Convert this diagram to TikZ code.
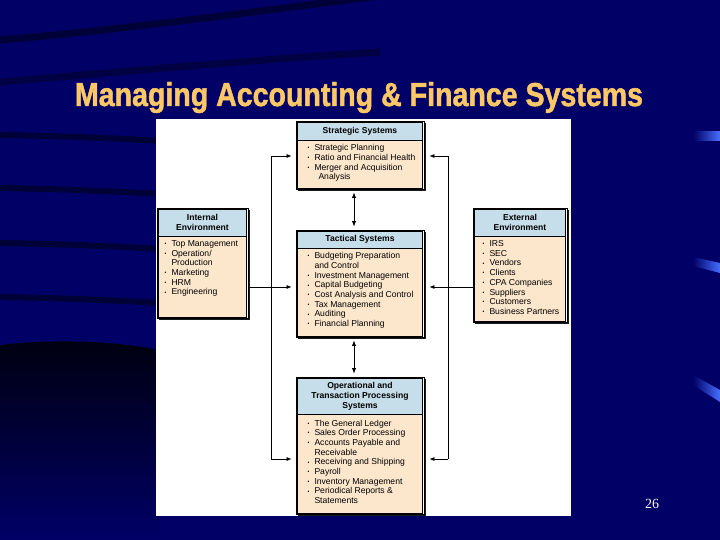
\documentclass[tikz,border=0pt]{standalone}
\usepackage{fontspec}
\setmainfont{Liberation Sans}
\newfontfamily\titlefont[FakeBold=1.5]{Liberation Sans Bold}
\newfontfamily\numfont{Liberation Serif}
\usetikzlibrary{positioning,shadows,arrows.meta}

\definecolor{slidebg}{RGB}{0,0,102}
\definecolor{titleyellow}{RGB}{255,200,102}
\definecolor{hdrblue}{RGB}{198,222,234}
\definecolor{bodypeach}{RGB}{253,231,204}
\definecolor{edgeblue}{RGB}{70,110,255}

% bullet, continuation indent and the list area of a block
\newcommand{\bul}{\makebox[7pt][l]{\raisebox{0.8pt}{\scalebox{0.6}{\textbullet}}}}
\newcommand{\sub}{\hspace*{7pt}}
\newcommand{\listbox}[5]{\parbox[c][#1pt][t]{#2pt}{\vspace*{#4pt}\raggedright\leftskip=#3pt\relax #5}}

\begin{document}
\begin{tikzpicture}[x=1pt,y=-1pt,font=\fontsize{8.6}{9.7}\selectfont]
\tikzset{
% Outer frame of a block with its shadow, then header and list parts
frame/.style={draw,line width=0.8,fill=white,inner sep=0,
  drop shadow={shadow xshift=2pt,shadow yshift=-2pt,fill=black,opacity=0.9}},
hdr/.style={draw,line width=0.5,fill=hdrblue,inner sep=0,align=center,
  font=\fontsize{8.6}{9.7}\selectfont\bfseries},
bdy/.style={draw,line width=0.5,fill=bodypeach,inner sep=0},
% Connectors
link/.style={line width=0.7},
arr/.style={line width=0.7,-{Latex[length=5pt,width=4pt]},shorten >=4pt},
twoway/.style={line width=0.9,{Latex[length=5.5pt,width=4.5pt]}-{Latex[length=5.5pt,width=4.5pt]},
  shorten >=3pt,shorten <=3pt}
}
\useasboundingbox (0,0) rectangle (720,540);
% Slide background
\fill[slidebg] (0,0) rectangle (720,540);
\draw[black,opacity=0.45,line width=7] (0,40) .. controls (120,30) and (250,12) .. (380,-4);
\draw[black,opacity=0.35,line width=7] (0,82) .. controls (120,72) and (250,60) .. (380,52);
\foreach \y in {135,188,243,297}
  \draw[black,opacity=0.45,line width=6] (0,\y) .. controls (60,\y+1) and (110,\y+3) .. (160,\y+6);
\shade[top color=black!85!slidebg,bottom color=slidebg] (0,345) .. controls (60,338) and (120,342) .. (160,350)
  -- (160,540) -- (0,540) -- cycle;
\shade[left color=slidebg,right color=edgeblue] (693,132) rectangle (720,141);
\shade[left color=slidebg,right color=edgeblue] (693,257) -- (720,263) -- (720,273) -- (693,266) -- cycle;
\shade[left color=slidebg,right color=edgeblue] (693,375) -- (720,390) -- (720,402) -- (693,385) -- cycle;
\fill[white] (156,119) rectangle (571,516);

% Title and page number
\node[anchor=base,inner sep=0,text=titleyellow] (title) at (359,106)
  {\resizebox{568pt}{24pt}{\titlefont Managing Accounting \& Finance Systems}};
\node[text=white,font=\numfont\fontsize{14}{16}\selectfont] (pgno) at (652,504) {26};

% Strategic Systems
\node[frame,minimum width=128,minimum height=68] (s) at (360,155) {};
\node[hdr,minimum width=125,minimum height=17.5,below=1.5pt of s.north] (sh) {Strategic Systems};
\node[bdy,below=0pt of sh] (sb) {\listbox{47.5}{125}{10}{4.2}{%
  \bul Strategic Planning\\
  \bul Ratio and Financial Health\\
  \bul Merger and Acquisition\\
  \sub\hspace*{4pt}Analysis}};

% Tactical Systems
\node[frame,minimum width=128,minimum height=107] (t) at (360,283.5) {};
\node[hdr,minimum width=125,minimum height=16.5,below=1.5pt of t.north] (th) {Tactical Systems};
\node[bdy,below=0pt of th] (tb) {\listbox{87.5}{125}{10}{4.2}{%
  \bul Budgeting Preparation\\
  \sub and Control\\
  \bul Investment Management\\
  \bul Capital Budgeting\\
  \bul Cost Analysis and Control\\
  \bul Tax Management\\
  \bul Auditing\\
  \bul Financial Planning}};

% Operational and Transaction Processing Systems
\node[frame,minimum width=128,minimum height=137] (o) at (360,445.5) {};
\node[hdr,minimum width=125,minimum height=35.5,below=1.5pt of o.north] (oh)
  {Operational and\\Transaction Processing\\Systems};
\node[bdy,below=0pt of oh] (ob) {\listbox{98.5}{125}{10}{5.5}{%
  \bul The General Ledger\\
  \bul Sales Order Processing\\
  \bul Accounts Payable and\\
  \sub Receivable\\
  \bul Receiving and Shipping\\
  \bul Payroll\\
  \bul Inventory Management\\
  \bul Periodical Reports \&\\
  \sub Statements}};

% Internal Environment
\node[frame,minimum width=91,minimum height=110] (ie) at (202.5,263) {};
\node[hdr,minimum width=88,minimum height=26.5,below=1.5pt of ie.north] (ih) {Internal\\Environment};
\node[bdy,below=0pt of ih] (ib) {\listbox{80.5}{88}{6}{4.2}{%
  \bul Top Management\\
  \bul Operation/\\
  \sub Production\\
  \bul Marketing\\
  \bul HRM\\
  \bul Engineering}};

% External Environment
\node[frame,minimum width=94,minimum height=114] (ee) at (520,265) {};
\node[hdr,minimum width=91,minimum height=26.5,below=1.5pt of ee.north] (eh) {External\\Environment};
\node[bdy,below=0pt of eh] (eb) {\listbox{84.5}{91}{8}{4.2}{%
  \bul IRS\\
  \bul SEC\\
  \bul Vendors\\
  \bul Clients\\
  \bul CPA Companies\\
  \bul Suppliers\\
  \bul Customers\\
  \bul Business Partners}};

% Connectors
\coordinate (ltop) at (271,156);
\coordinate (lmid) at (271,287);
\coordinate (lbot) at (271,459);
\coordinate (rtop) at (448,156);
\coordinate (rmid) at (448,287);
\coordinate (rbot) at (448,459);
\draw[link] (ltop) -- (lbot);
\draw[link] (rtop) -- (rbot);
\draw[arr] (ltop) -- (s.west |- ltop);
\draw[arr] (ie.east |- lmid) -- (t.west |- lmid);
\draw[arr] (lbot) -- (o.west |- lbot);
\draw[arr,shorten >=5pt] (rtop) -- (s.east |- rtop);
\draw[arr,shorten >=5pt] (ee.west |- rmid) -- (t.east |- rmid);
\draw[arr,shorten >=5pt] (rbot) -- (o.east |- rbot);
\draw[twoway] ([xshift=-6pt]s.south) -- ([xshift=-6pt]t.north);
\draw[twoway] ([xshift=-6pt]t.south) -- ([xshift=-6pt]o.north);
\end{tikzpicture}
\end{document}
